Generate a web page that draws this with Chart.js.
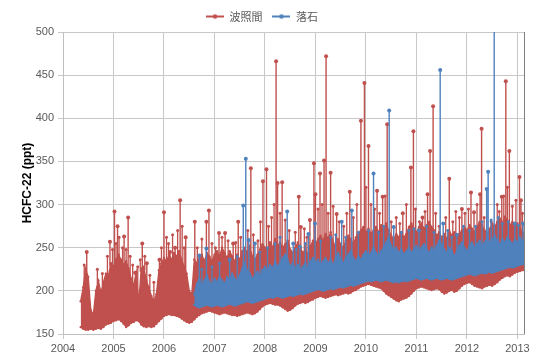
<!DOCTYPE html>
<html>
<head>
<meta charset="utf-8">
<title>HCFC-22 波照間・落石</title>
<script src="https://cdn.jsdelivr.net/npm/chart.js@4.4.1/dist/chart.umd.min.js"></script>
<style>
  html, body { margin: 0; padding: 0; background: #fff; }
  #wrap { width: 540px; height: 360px; }
</style>
</head>
<body>
<div id="wrap"><canvas id="chart" width="540" height="360"></canvas></div>
<script>
// HCFC-22 at Hateruma / Ochiishi

const STEP = 0.05;   // years between envelope samples

// 波照間 (Hateruma): top and bottom of the dense band, from 2004.35
const HAT_START = 2004.35;
const hatHi = [
  188,204,226,216,178,172,200,212,198,210,220,218,232,228,236,242,236,230,234,226,
  214,206,222,186,226,228,212,204,194,188,196,224,232,238,234,242,236,244,240,246,
  236,228,220,200,196,236,232,238,242,234,244,240,234,242,246,240,250,244,238,246,
  240,234,242,236,246,250,244,252,240,236,242,248,254,250,246,256,250,260,252,256,
  250,254,258,248,244,250,256,250,244,248,242,252,258,254,260,264,258,266,260,268,
  256,252,260,254,250,258,264,260,254,262,266,270,274,268,272,266,270,274,268,276,
  272,278,270,264,260,266,262,268,262,266,274,278,272,268,274,278,272,276,280,274,
  270,264,268,262,266,260,270,264,268,262,266,270,274,270,276,272,268,274,280,276,
  270,266,272,278,274,280,284,278,286,282,276,280,274,278,272,268,266
];
const hatLo = [
  158,156,155,155,156,155,156,157,156,158,161,162,163,165,166,167,165,162,158,160,
  163,164,166,165,161,159,158,159,158,159,162,165,168,171,172,173,172,172,171,170,
  168,166,164,163,164,167,170,172,174,175,176,177,176,175,174,173,174,175,174,173,
  172,172,171,172,173,174,175,174,173,174,176,179,182,184,185,186,185,184,184,183,
  181,179,177,178,180,183,185,186,187,186,187,189,190,192,193,194,193,192,193,194,
  195,196,195,196,197,198,197,198,200,201,203,205,206,207,208,207,206,205,204,203,
  200,197,195,193,191,189,188,190,191,192,194,197,200,203,204,205,204,203,202,201,
  202,203,202,199,197,198,200,201,199,200,203,206,208,209,210,208,206,205,204,203,
  205,206,207,206,208,210,213,215,217,218,217,219,221,222,223,224,224
];
// tall isolated episodes above the band
const hatSpikeYear = [
  2004.47,2004.93,2005.02,2005.08,2005.14,2005.21,2005.29,2005.43,2005.57,2005.66,
  2005.91,2006.00,2006.12,2006.22,2006.32,2006.43,2006.61,2006.84,2006.89,2007.09,
  2007.21,2007.37,2007.47,2007.72,2007.96,2008.03,2008.22,2008.25,2008.34,2008.67,
  2008.71,2008.89,2008.97,2009.00,2009.09,2009.17,2009.21,2009.30,2009.42,2009.68,
  2009.90,2009.97,2010.05,2010.22,2010.33,2010.42,2010.73,2010.89,2010.94,2011.12,
  2011.22,2011.27,2011.33,2011.65,2011.90,2012.08,2012.14,2012.26,2012.29,2012.69,
  2012.77,2012.84,2013.04,2013.07
];
const hatSpikePeak = [
  245,257,292,275,235,263,285,221,255,232,
  236,291,245,250,305,262,280,280,293,267,
  267,255,280,342,327,341,466,325,326,309,
  274,282,348,312,336,351,472,337,289,315,
  397,441,368,316,309,393,290,343,385,285,
  312,362,414,330,295,314,291,312,388,309,
  443,362,332,305
];
// smaller teeth that make the ragged top of the band
const hatToothYear = [
  2004.42,2004.68,2004.78,2004.88,2004.98,2005.05,2005.11,2005.18,2005.25,2005.33,
  2005.38,2005.48,2005.53,2005.62,2005.72,2005.80,2005.95,2006.05,2006.09,2006.17,
  2006.27,2006.36,2006.40,2006.66,2006.75,2006.95,2007.02,2007.15,2007.27,2007.42,
  2007.52,2007.66,2007.77,2007.86,2007.91,2008.07,2008.13,2008.18,2008.30,2008.40,
  2008.48,2008.60,2008.78,2008.83,2009.05,2009.13,2009.25,2009.35,2009.47,2009.56,
  2009.62,2009.75,2009.82,2010.00,2010.10,2010.17,2010.27,2010.38,2010.50,2010.60,
  2010.67,2010.80,2010.98,2011.06,2011.17,2011.38,2011.45,2011.58,2011.72,2011.78,
  2011.85,2011.96,2012.03,2012.20,2012.34,2012.48,2012.60,2012.64,2012.73,2012.80,
  2012.90,2012.97,2013.10
];
const hatToothPeak = [
  230,225,220,240,248,255,262,250,248,240,
  230,228,236,240,218,210,250,262,255,265,
  270,275,250,250,260,255,250,262,258,256,
  262,270,265,258,280,275,285,300,290,282,
  270,268,272,262,295,300,290,298,280,275,
  290,285,300,320,300,295,290,310,280,285,
  278,300,295,280,292,290,275,285,280,292,
  285,290,295,300,285,280,300,292,310,320,
  298,305,290
];

// 落石 (Ochiishi): from 2006.60
const OCH_START = 2006.60;
const ochHi = [
  196,208,214,206,212,218,210,206,214,210,216,212,208,216,212,220,214,210,218,226,
  232,224,220,214,218,222,216,224,228,222,230,226,234,228,232,238,242,236,228,232,
  226,230,224,228,232,226,234,238,232,236,230,234,238,232,236,230,238,244,236,232,
  238,242,246,238,234,240,236,242,246,240,244,250,244,240,246,250,256,262,252,246,
  250,244,248,242,246,250,244,248,252,246,250,254,248,244,250,246,252,258,254,248,
  244,250,246,240,246,252,256,250,246,252,256,250,254,258,252,256,262,256,260,264,
  258,254,260,256,262,258,254,260,256,262,258,254
];
const ochLo = [
  184,182,181,182,183,184,183,182,183,184,183,182,183,184,185,184,183,184,185,186,
  187,188,187,186,187,188,189,190,191,192,193,192,193,194,193,192,193,194,195,194,
  195,196,197,196,197,198,199,200,201,202,201,200,201,202,203,202,203,204,205,204,
  205,206,207,206,207,208,209,210,211,212,211,212,213,212,211,212,213,212,211,210,
  211,210,211,212,211,212,213,214,215,214,213,214,215,214,213,214,215,214,213,214,
  215,214,213,214,215,216,217,218,219,220,219,218,219,220,221,220,221,222,221,222,
  223,224,225,226,227,228,227,228,229,230,231,230
];
const ochSpikeYear = [
  2006.70,2006.84,2007.30,2007.57,2007.62,2007.68,2007.80,2008.44,2008.56,2008.69,
  2008.86,2008.99,2009.52,2009.72,2010.15,2010.46,2010.55,2011.05,2011.47,2011.53,
  2011.80,2012.39,2012.42,2012.54,2012.95,2013.11
];
const ochSpikePeak = [
  241,249,236,299,353,259,255,292,255,251,
  266,278,280,293,336,409,274,270,456,278,
  265,318,338,520,278,278
];
const ochToothYear = [
  2006.75,2006.95,2007.10,2007.45,2007.90,2008.05,2008.20,2008.30,2008.62,2008.80,
  2009.10,2009.30,2009.40,2009.60,2009.85,2010.05,2010.25,2010.35,2010.70,2010.85,
  2010.95,2011.20,2011.35,2011.62,2011.70,2011.93,2012.05,2012.17,2012.30,2012.48,
  2012.62,2012.70,2012.82,2013.02
];
const ochToothPeak = [
  225,228,232,240,245,250,255,262,248,255,
  258,262,265,262,268,270,268,275,268,270,
  272,275,268,270,262,275,270,275,280,282,
  285,278,280,276
];

const yearTicks = [2004, 2005, 2006, 2007, 2008, 2009, 2010, 2011, 2012, 2013];

const RED = '#c0504d';
const BLUE = '#4f81bd';

// turn a value list into {x, y} points on the year grid
function band(start, values) {
    return values.map((v, i) => ({ x: +(start + i * STEP).toFixed(2), y: v }));
}

// each spike rises from the band top to its peak; null breaks the line
function spikes(years, peaks, start, hi) {
    const out = [];
    years.forEach((yr, k) => {
        let idx = Math.round((yr - start) / STEP);
        idx = Math.max(0, Math.min(hi.length - 1, idx));
        out.push({ x: yr, y: hi[idx] - 4 }, { x: yr, y: peaks[k] }, { x: yr, y: null });
    });
    return out;
}

// small "line with marker" picture for the legend
function legendIcon(color) {
    const c = document.createElement('canvas');
    c.width = 18;
    c.height = 8;
    const g = c.getContext('2d');
    g.strokeStyle = color;
    g.lineWidth = 2;
    g.beginPath();
    g.moveTo(0, 4);
    g.lineTo(18, 4);
    g.stroke();
    g.fillStyle = color;
    g.beginPath();
    g.arc(9, 4, 2.3, 0, Math.PI * 2);
    g.fill();
    return c;
}

const icons = { [RED]: legendIcon(RED), [BLUE]: legendIcon(BLUE) };

function lineSet(label, data, color, order, extra) {
    return Object.assign({
        label,
        data,
        borderColor: color,
        backgroundColor: color,
        borderWidth: 1.3,
        pointRadius: 1.2,
        pointBorderWidth: 0,
        pointBackgroundColor: color,
        fill: false,
        tension: 0,
        order
    }, extra || {});
}

// right frame line of the plot area
const frame = {
    id: 'frame',
    beforeDatasetsDraw(chart) {
        const { ctx, chartArea: a } = chart;
        ctx.save();
        ctx.strokeStyle = '#7f7f7f';
        ctx.lineWidth = 1;
        ctx.beginPath();
        ctx.moveTo(Math.round(a.right) + 0.5, a.top);
        ctx.lineTo(Math.round(a.right) + 0.5, a.bottom);
        ctx.stroke();
        ctx.restore();
    }
};

const spikeRadius = ctx => (ctx.dataIndex % 3 === 1 ? 2 : 0);
const toothRadius = ctx => (ctx.dataIndex % 3 === 1 ? 1.5 : 0);
const spikeOpts = { borderWidth: 1.4, pointRadius: spikeRadius, spanGaps: false };
const toothOpts = { borderWidth: 1.3, pointRadius: toothRadius, spanGaps: false };

new Chart(document.getElementById('chart'), {
    type: 'line',
    data: {
        datasets: [
            lineSet('', band(HAT_START, hatLo), RED, 5),
            lineSet('波照間', band(HAT_START, hatHi), RED, 5, { fill: '-1' }),
            lineSet('', spikes(hatToothYear, hatToothPeak, HAT_START, hatHi), RED, 4, toothOpts),
            lineSet('', spikes(hatSpikeYear, hatSpikePeak, HAT_START, hatHi), RED, 4, spikeOpts),
            lineSet('', band(OCH_START, ochLo), BLUE, 2),
            lineSet('落石', band(OCH_START, ochHi), BLUE, 2, { fill: '-1' }),
            lineSet('', spikes(ochToothYear, ochToothPeak, OCH_START, ochHi), BLUE, 1, toothOpts),
            lineSet('', spikes(ochSpikeYear, ochSpikePeak, OCH_START, ochHi), BLUE, 1, spikeOpts)
        ]
    },
    options: {
        responsive: false,
        animation: false,
        devicePixelRatio: 1,
        layout: { padding: { top: 1, right: 16, bottom: 0, left: 0 } },
        plugins: {
            tooltip: { enabled: false },
            legend: {
                position: 'top',
                labels: {
                    usePointStyle: true,
                    pointStyleWidth: 18,
                    boxHeight: 11,
                    padding: 10,
                    color: '#595959',
                    font: { family: '"Noto Sans CJK JP", sans-serif', size: 11 },
                    generateLabels(chart) {
                        return chart.data.datasets
                            .map((ds, i) => ({
                                text: ds.label,
                                datasetIndex: i,
                                pointStyle: icons[ds.borderColor],
                                fillStyle: ds.borderColor,
                                strokeStyle: ds.borderColor,
                                fontColor: '#595959',
                                lineWidth: 0,
                                hidden: false
                            }))
                            .filter(item => item.text !== '');
                    }
                }
            }
        },
        scales: {
            x: {
                type: 'linear',
                min: 2004,
                max: 2013.13,
                afterFit(scale) { scale.height = 26; },
                afterBuildTicks(scale) {
                    scale.ticks = yearTicks.map(v => ({ value: v }));
                },
                ticks: {
                    color: '#595959',
                    font: { family: '"Liberation Sans", Arial, sans-serif', size: 11 },
                    maxRotation: 0,
                    autoSkip: false,
                    padding: 3,
                    callback: v => String(v)
                },
                grid: { color: '#c8c8c8', lineWidth: 1, tickLength: 5 },
                border: { color: '#bfbfbf' }
            },
            y: {
                min: 150,
                max: 500,
                afterFit(scale) { scale.width = 63; },
                ticks: {
                    stepSize: 50,
                    color: '#595959',
                    font: { family: '"Liberation Sans", Arial, sans-serif', size: 11 },
                    padding: 4
                },
                grid: { color: '#c8c8c8', lineWidth: 1, tickLength: 5 },
                border: { color: '#bfbfbf' },
                title: {
                    display: true,
                    text: 'HCFC-22 (ppt)',
                    color: '#000',
                    font: { family: '"Liberation Sans", Arial, sans-serif', size: 12, weight: 'bold' },
                    padding: { top: 20, bottom: 0 }
                }
            }
        }
    },
    plugins: [frame]
});
</script>
</body>
</html>
